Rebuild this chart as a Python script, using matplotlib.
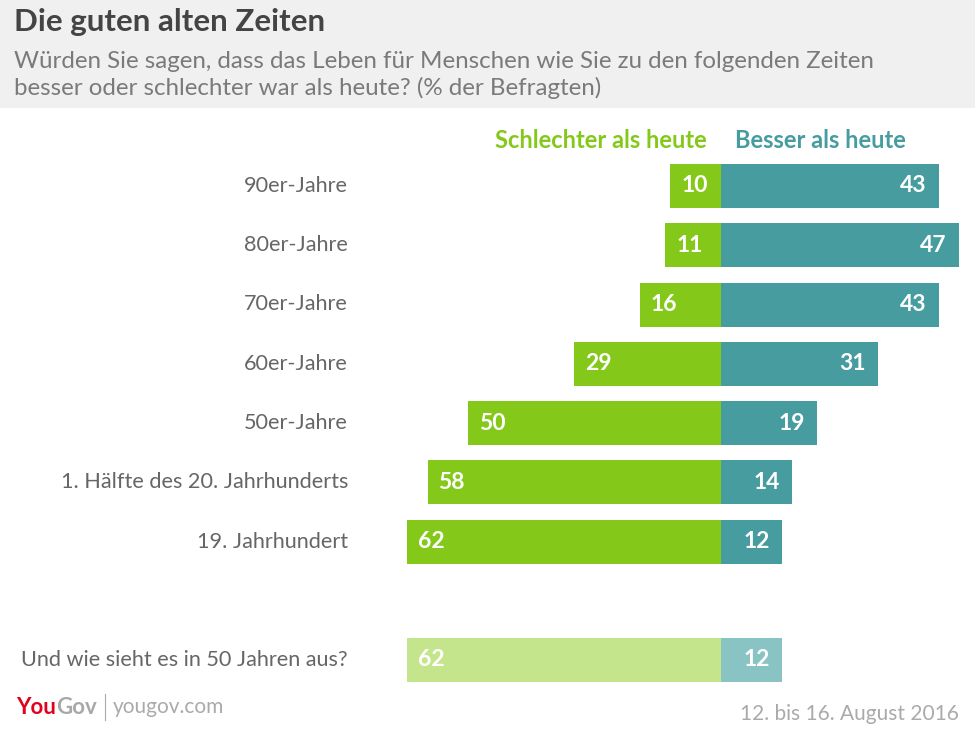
import matplotlib
matplotlib.use("Agg")
import matplotlib.pyplot as plt
from matplotlib.patches import Rectangle

categories = ["90er-Jahre", "80er-Jahre", "70er-Jahre", "60er-Jahre", "50er-Jahre",
              "1. Hälfte des 20. Jahrhunderts", "19. Jahrhundert", "Und wie sieht es in 50 Jahren aus?"]
schlechter = [10, 11, 16, 29, 50, 58, 62, 62]
besser = [43, 47, 43, 31, 19, 14, 12, 12]
positions = [0, 1, 2, 3, 4, 5, 6, 8]

title = "Die guten alten Zeiten"
subtitle = ("Würden Sie sagen, dass das Leben für Menschen wie Sie zu den folgenden Zeiten\n"
            "besser oder schlechter war als heute? (% der Befragten)")
legend_left = "Schlechter als heute"
legend_right = "Besser als heute"
date_text = "12. bis 16. August 2016"

GREEN = "#84c91a"
TEAL = "#469c9e"
GREEN_L = "#c5e58c"
TEAL_L = "#89c3c4"

W, H = 975, 741
fig = plt.figure(figsize=(W / 100, H / 100), dpi=100)
plt.rcParams['font.family'] = ['Lato', 'DejaVu Sans']

def fx(px):
    return px / W

def fy(py):
    return 1 - py / H

# header band
fig.patches.append(Rectangle((0, fy(108)), 1, 108 / H, transform=fig.transFigure,
                             facecolor="#f0f0f0", edgecolor="none", zorder=0))
fig.text(fx(14), fy(22), title, fontsize=22.5, fontweight="bold", color="#444444",
         va="center", ha="left")
fig.text(fx(14), fy(75), subtitle, fontsize=17.4, color="#7a7a7a", va="center", ha="left",
         linespacing=1.25)

# axes covering the whole figure, scaled in data units
scale = 5.06
zero_px = 721
ax = fig.add_axes([0, 0, 1, 1])
ax.set_xlim(-zero_px / scale, (W - zero_px) / scale)
row_px = 59.25
row0_px = 186
ax.set_ylim(8 + (H - 660) / row_px, -row0_px / row_px)
ax.axis("off")
ax.patch.set_alpha(0)

bh = 44 / row_px
for i, (cat, s, b, p) in enumerate(zip(categories, schlechter, besser, positions)):
    last = (i == len(categories) - 1)
    gc = GREEN_L if last else GREEN
    tc = TEAL_L if last else TEAL
    ax.barh(p, -s, height=bh, color=gc, edgecolor="none")
    ax.barh(p, b, height=bh, color=tc, edgecolor="none")
    ax.text(-s + 11 / scale, p, str(s), color="white", fontsize=16.5, fontweight="bold",
            ha="left", va="center")
    ax.text(b - 12 / scale, p, str(b), color="white", fontsize=16.5, fontweight="bold",
            ha="right", va="center")
    xl = (348 - zero_px) / scale
    ax.text(xl, p, cat, color="#666666", fontsize=15.6, ha="right", va="center")

# legend headers
fig.text(fx(707), fy(141), legend_left, color=GREEN, fontsize=17, fontweight="bold",
         ha="right", va="center")
fig.text(fx(735), fy(141), legend_right, color=TEAL, fontsize=17, fontweight="bold",
         ha="left", va="center")

# footer
t1 = fig.text(fx(16), fy(707), "You", color="#e3001b", fontsize=16, fontweight="bold",
              ha="left", va="center")
fig.canvas.draw()
bb = t1.get_window_extent()
t2 = fig.text(bb.x1 / W, fy(707), "Gov", color="#a8a8a8", fontsize=16, fontweight="bold",
              ha="left", va="center")
fig.add_artist(plt.Line2D([fx(105), fx(105)], [fy(694), fy(720)], color="#aaaaaa",
                          lw=0.8, transform=fig.transFigure))
fig.text(fx(113), fy(707), "yougov.com", color="#aaaaaa", fontsize=15, ha="left",
         va="center")
fig.text(fx(959), fy(714), date_text, color="#aaaaaa", fontsize=15, ha="right",
         va="center")

fig.savefig("out.png", dpi=100)
